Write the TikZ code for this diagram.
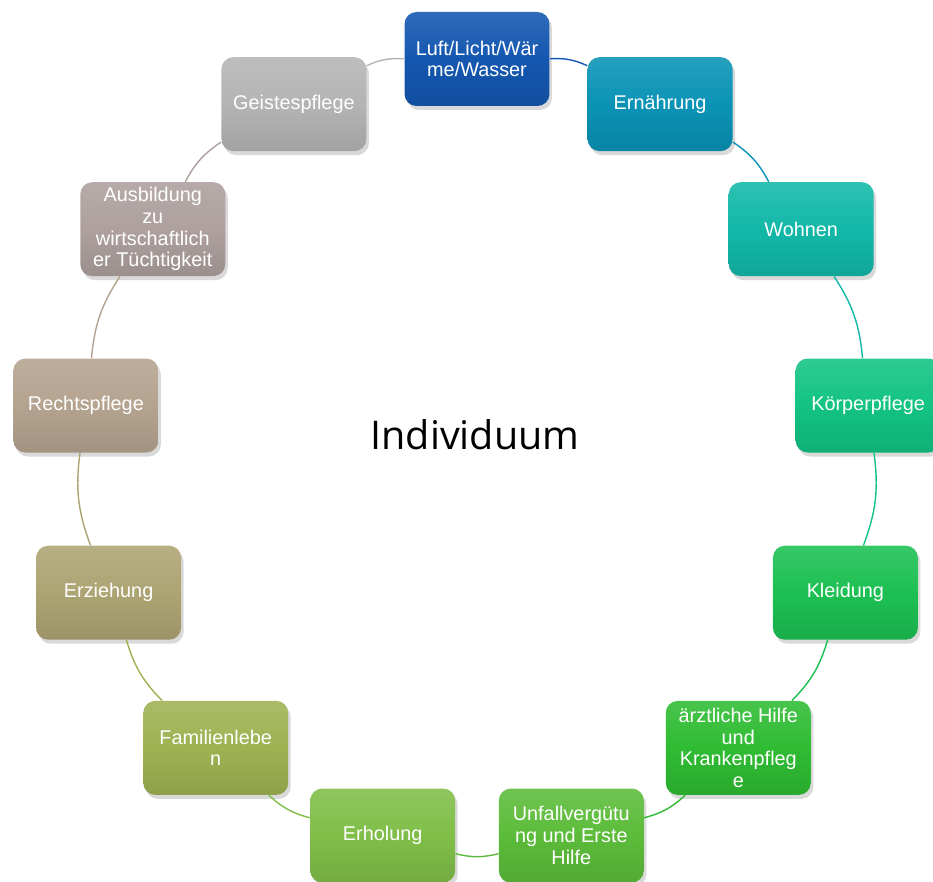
\documentclass[tikz,border=0pt]{standalone}
\usepackage{fontspec}
\setmainfont{Liberation Sans}
\newfontfamily\midfont{Open Sans}
\usepackage{tikz}
\usetikzlibrary{shadows}
\definecolor{luft}{HTML}{1457B0}
\definecolor{ernaehrung}{HTML}{0A93B6}
\definecolor{wohnen}{HTML}{12B8A8}
\definecolor{koerper}{HTML}{12C383}
\definecolor{kleidung}{HTML}{1CC052}
\definecolor{arzt}{HTML}{2FBC33}
\definecolor{unfall}{HTML}{5CBC3A}
\definecolor{erholung}{HTML}{80BE48}
\definecolor{familie}{HTML}{9EB252}
\definecolor{erziehung}{HTML}{ADA473}
\definecolor{recht}{HTML}{B4A38F}
\definecolor{ausbildung}{HTML}{ADA09E}
\definecolor{geist}{HTML}{B4B4B4}

\begin{document}
\begin{tikzpicture}[x=0.02cm,y=0.02cm,
box/.style={rounded corners=2.4mm,minimum width=2.9cm,minimum height=1.88cm,align=center,
  inner sep=1pt,text=white,font=\fontsize{11.3}{12.4}\selectfont,
  top color=#1!88!white,bottom color=#1!90!black,middle color=#1,
  drop shadow={opacity=0.3,shadow xshift=0.5mm,shadow yshift=-0.8mm}},
link/.style={line width=0.8pt,bend left=14}]
\useasboundingbox (0,0) rectangle (933,882);
\begin{scope}[shift={(477,429)}]
\node[font=\midfont\fontsize{22.5}{26}\selectfont] (ind) at (-2,18) {Individuum};
\node[box=luft] (luft) at (90:394) {Luft/Licht/Wär\\me/Wasser};
\node[box=ernaehrung] (ern) at (62.31:394) {Ernährung};
\node[box=wohnen] (wohn) at (34.62:394) {Wohnen};
\node[box=koerper] (koerp) at (6.92:394) {Körperpflege};
\node[box=kleidung] (kleid) at (-20.77:394) {Kleidung};
\node[box=arzt] (arzt) at (-48.46:394) {ärztliche Hilfe\\und\\Krankenpfleg\\e};
\node[box=unfall] (unf) at (-76.15:394) {Unfallvergütu\\ng und Erste\\Hilfe};
\node[box=erholung] (erh) at (-103.85:394) {Erholung};
\node[box=familie] (fam) at (-131.54:394) {Familienlebe\\n};
\node[box=erziehung] (erz) at (-159.23:394) {Erziehung};
\node[box=recht] (recht) at (173.08:394) {Rechtspflege};
\node[box=ausbildung] (ausb) at (145.38:394) {Ausbildung\\zu\\wirtschaftlich\\er Tüchtigkeit};
\node[box=geist] (geist) at (117.69:394) {Geistespflege};
\end{scope}
\draw[link,luft] (luft) to (ern);
\draw[link,ernaehrung] (ern) to (wohn);
\draw[link,wohnen] (wohn) to (koerp);
\draw[link,koerper] (koerp) to (kleid);
\draw[link,kleidung] (kleid) to (arzt);
\draw[link,arzt] (arzt) to (unf);
\draw[link,unfall] (unf) to (erh);
\draw[link,erholung] (erh) to (fam);
\draw[link,familie] (fam) to (erz);
\draw[link,erziehung] (erz) to (recht);
\draw[link,recht] (recht) to (ausb);
\draw[link,ausbildung] (ausb) to (geist);
\draw[link,geist] (geist) to (luft);
\end{tikzpicture}
\end{document}
